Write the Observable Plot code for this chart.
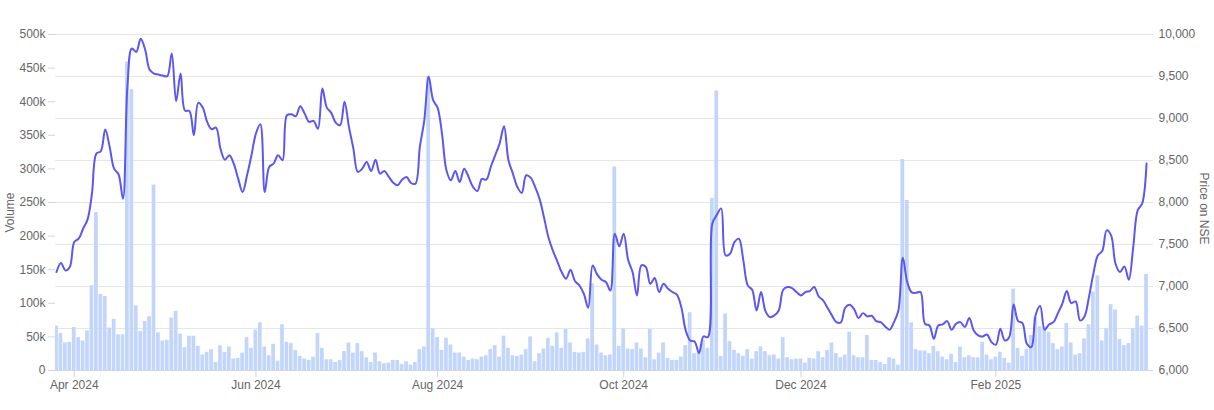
<!DOCTYPE html>
<html>
<head>
<meta charset="utf-8">
<script src="https://cdn.jsdelivr.net/npm/d3@7"></script>
<script src="https://cdn.jsdelivr.net/npm/@observablehq/plot@0.6"></script>
<style>
  html, body { margin: 0; padding: 0; background: #ffffff; overflow: hidden; }
  #chart { position: relative; width: 1214px; height: 410px; font-family: "Liberation Sans", Arial, sans-serif; }
  #chart svg { position: absolute; left: 0; top: 0; background: transparent; }
</style>
</head>
<body>
<div id="chart"></div>
<script>
// Daily traded volume (thousands of shares), one value per trading session
const volumeK = [
  66,55,41,42,64,49,44,59,126,235,
  113,110,63,76,53,53,459,418,96,58,
  73,80,276,56,44,45,78,88,54,34,
  51,51,36,23,27,31,12,37,27,35,
  17,18,26,49,33,60,71,35,22,39,
  14,68,42,40,30,21,17,15,20,55,
  33,16,16,12,15,28,41,26,40,28,
  19,12,26,13,10,11,15,15,9,13,
  8,12,31,35,438,62,49,30,48,38,
  26,26,20,15,17,16,20,22,31,37,
  20,51,33,22,21,23,31,50,13,25,
  32,48,36,56,33,61,41,27,26,27,
  47,129,38,26,22,23,303,36,62,32,
  31,41,32,19,61,16,26,41,18,15,
  15,20,37,86,25,26,45,33,256,416,
  21,84,43,30,25,21,31,17,28,35,
  28,22,23,17,49,19,16,17,17,11,
  18,17,28,19,30,41,25,19,23,57,
  22,19,19,52,15,15,12,9,19,17,
  8,314,253,71,31,29,29,25,36,28,
  20,16,24,12,35,19,22,19,19,42,
  23,16,20,27,18,11,121,33,21,31,
  52,78,65,65,57,40,31,35,70,41,
  23,25,47,68,117,141,44,62,98,90,
  46,37,40,62,81,66,143
];

// Closing price on NSE, one value per trading session
const price = [
  7172,7279,7192,7232,7529,7569,7688,7796,8105,8582,
  8610,8868,8661,8403,8336,8046,9376,9833,9793,9948,
  9821,9583,9535,9523,9511,9503,9774,9206,9535,9094,
  9090,8800,9186,9130,8959,8872,8892,8642,8510,8562,
  8463,8284,8125,8324,8562,8820,8932,8125,8423,8463,
  8562,8503,9039,9051,9027,9146,9059,8959,8971,8880,
  9357,9130,9067,8951,8920,9198,8900,8642,8364,8403,
  8483,8375,8510,8344,8375,8304,8236,8205,8272,8304,
  8232,8224,8661,8979,9496,9218,9130,8820,8383,8264,
  8375,8244,8403,8304,8185,8137,8280,8272,8423,8562,
  8701,8908,8503,8344,8185,8113,8324,8296,8185,8046,
  7827,7589,7430,7303,7172,7093,7200,7065,7013,6914,
  6747,7251,7144,7081,7053,6953,7629,7478,7629,7319,
  7172,6894,7251,7232,7033,7100,6934,7033,6973,6934,
  6902,6755,6477,6358,6346,6207,6405,6397,7748,7850,
  7930,7370,7390,7529,7569,7311,7013,6961,6715,6934,
  6707,6636,6656,6715,6961,6993,6981,6934,6894,6934,
  6946,6993,6882,6834,6747,6656,6576,6572,6747,6783,
  6731,6624,6683,6644,6652,6588,6576,6525,6485,6576,
  6715,7343,7050,6930,6925,6935,6556,6536,6378,6536,
  6548,6588,6485,6556,6576,6517,6624,6477,6417,6405,
  6429,6338,6306,6497,6358,6397,6787,6588,6564,6318,
  6278,6667,6767,6485,6548,6576,6683,6795,6946,6802,
  6822,6596,6644,6874,7152,7370,7422,7668,7609,7271,
  7172,7239,7081,7470,7907,7986,8463
];

// Exchange holidays (weekdays without a session)
const holidays = [
  "2024-03-25","2024-03-29","2024-04-11","2024-04-17","2024-05-01","2024-05-20",
  "2024-06-17","2024-07-17","2024-08-15","2024-10-02","2024-11-01","2024-11-15",
  "2024-11-20","2024-12-25","2025-02-26","2025-03-14"
];
const firstSession = "2024-03-22";
const lastSession = "2025-03-24";

// X axis tick labels
const tickDates  = ["2024-04-01","2024-06-03","2024-08-01","2024-10-01","2024-12-02","2025-02-03"];
const tickLabels = ["Apr 2024","Jun 2024","Aug 2024","Oct 2024","Dec 2024","Feb 2025"];

// Y axis ticks
const volumeTicks = d3.range(0, 500001, 50000);
const priceTicks = d3.range(6000, 10001, 500);

const fmtDay = d3.utcFormat("%Y-%m-%d");
const sessions = d3.utcDay
  .range(new Date(firstSession + "T00:00Z"), d3.utcDay.offset(new Date(lastSession + "T00:00Z"), 1))
  .filter(d => d.getUTCDay() !== 0 && d.getUTCDay() !== 6)
  .map(d => fmtDay(d))
  .filter(s => !holidays.includes(s));

const rows = volumeK.map((v, i) => ({ i, date: sessions[i], volume: v * 1000, price: price[i] }));
const tickIdx = tickDates.map(d => sessions.indexOf(d));

const FONT = '"Liberation Sans", Arial, sans-serif';
const xDomain = [-0.226, 247.57];
const base = {
  width: 1214, height: 410,
  marginLeft: 55, marginRight: 61, marginTop: 34, marginBottom: 40,
  style: { fontFamily: FONT, fontSize: "12px", color: "#666666" }
};

// Layer 1: price grid, right axis, date axis
const layerGrid = Plot.plot({
  ...base,
  x: { type: "linear", domain: xDomain },
  y: { domain: [6000, 10000] },
  marks: [
    Plot.gridY(priceTicks, { stroke: "#e6e6e6", strokeOpacity: 1 }),
    Plot.axisY(priceTicks, {
      anchor: "right", tickSize: 0, tickPadding: 5,
      tickFormat: d3.format(","), color: "#666666", label: null
    }),
    Plot.axisX(tickIdx, {
      anchor: "bottom", tickSize: 7, tickPadding: 3,
      tickFormat: d => tickLabels[tickIdx.indexOf(d)],
      stroke: "#ccd6eb", color: "#666666", label: null
    }),
    Plot.text(["Price on NSE"], {
      frameAnchor: "right", textAnchor: "middle", lineAnchor: "middle",
      dx: 50, dy: 6, rotate: 90,
      fill: "#666666", fontSize: 12
    })
  ]
});

// Layer 2: volume bars, left axis
const layerBars = Plot.plot({
  ...base,
  x: { type: "linear", domain: xDomain, axis: null },
  y: { domain: [0, 500000] },
  marks: [
    Plot.rect(rows, {
      x1: d => d.i - 0.42, x2: d => d.i + 0.42,
      y1: () => 0, y2: "volume",
      fill: "#c2d5fb", clip: true
    }),
    Plot.ruleY([0], { stroke: "#ccd6eb" }),
    Plot.axisY(volumeTicks, {
      anchor: "left", tickSize: 7, tickPadding: 3,
      tickFormat: v => v === 0 ? "0" : (v / 1000) + "k",
      stroke: "#ccd6eb", color: "#666666", label: null
    }),
    Plot.text(["Volume"], {
      frameAnchor: "left", textAnchor: "middle", lineAnchor: "middle",
      dx: -45, dy: 10, rotate: -90,
      fill: "#666666", fontSize: 12
    })
  ]
});

// Layer 3: price line
const layerLine = Plot.plot({
  ...base,
  x: { type: "linear", domain: xDomain, axis: null },
  y: { domain: [6000, 10000], axis: null },
  marks: [
    Plot.line(rows, {
      x: "i", y: "price", stroke: "#5b57f0", strokeWidth: 2,
      curve: "catmull-rom", clip: true
    })
  ]
});

const root = document.getElementById("chart");
root.append(layerGrid, layerBars, layerLine);
</script>
</body>
</html>
